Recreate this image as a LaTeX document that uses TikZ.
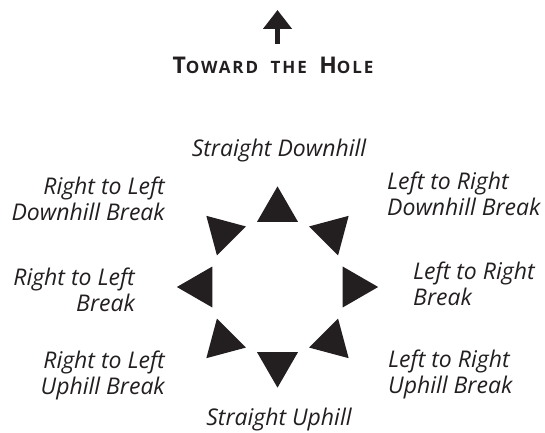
\documentclass[tikz,border=0pt]{standalone}
\usepackage{fontspec}
\setmainfont{Open Sans}
\usetikzlibrary{shapes.geometric,arrows.meta}
\definecolor{ink}{HTML}{231F20}
\tikzset{
  wedge/.style={regular polygon, regular polygon sides=3, fill=ink,
    inner sep=0pt, minimum size=47.3pt},
  lbl/.style={font=\fontsize{23}{25.5}\selectfont\itshape, text=ink, inner sep=0pt},
}
\begin{document}
\begin{tikzpicture}[x=1pt,y=1pt]
  \useasboundingbox (0,0) rectangle (545,432);
  % heading with its arrow
  \coordinate (foot) at (277.5,388);
  \coordinate (tip) at (277.5,422);
  \draw[ink, line width=5pt, -{Triangle[width=28pt,length=19pt]}] (foot) -- (tip);
  \node[font=\bfseries\addfontfeature{LetterSpace=11}, text=ink, inner sep=0pt, anchor=base] (title) at (273,358)
    {\fontsize{23}{23}\selectfont T\fontsize{17}{23}\selectfont OWARD\ \ THE\ \
     \fontsize{23}{23}\selectfont H\fontsize{17}{23}\selectfont OLE};
  % the eight wedges round the cup
  \coordinate (hub) at (277.5,145);
  \foreach \a [count=\i] in {90,45,0,-45,-90,-135,180,135} {
    \node[wedge, rotate=\a-90] (wedge\i) at ([shift={(\a:77)}]hub) {};
  }
  % labels (base = last line)
  \node[lbl, anchor=base] (sdown) at (279,276) {Straight Downhill};
  \node[lbl, anchor=base] (sup) at (279,7) {Straight Uphill};
  \node[lbl, align=right, anchor=base east] (rldown) at (165,212) {Right to Left\\Downhill Break};
  \node[lbl, align=left, anchor=base west] (lrdown) at (387,217) {Left to Right\\Downhill Break};
  \node[lbl, align=right, anchor=base east] (rl) at (135,121) {Right to Left\\Break};
  \node[lbl, align=left, anchor=base west] (lr) at (413,127) {Left to Right\\Break};
  \node[lbl, align=right, anchor=base east] (rlup) at (165,38) {Right to Left\\Uphill Break};
  \node[lbl, align=left, anchor=base west] (lrup) at (388,39) {Left to Right\\Uphill Break};
\end{tikzpicture}
\end{document}
